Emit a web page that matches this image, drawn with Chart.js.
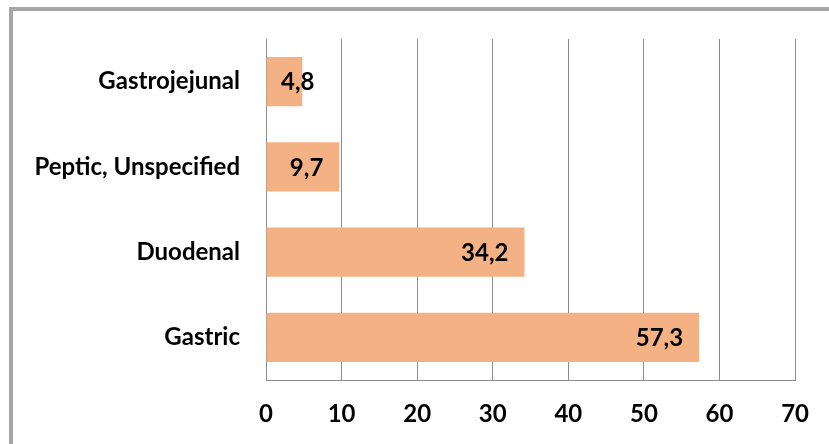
<!DOCTYPE html>
<html>
<head>
<meta charset="utf-8">
<script src="https://cdn.jsdelivr.net/npm/chart.js@4"></script>
<style>
  body { margin: 0; overflow: hidden; background: #fff; }
  #frame { position: absolute; left: 9px; top: 7px; width: 900px; height: 500px; border: 4px solid #a6a6a6; }
  #wrap { position: absolute; left: 0; top: 0; width: 829px; height: 444px; }
</style>
</head>
<body>
<div id="frame"></div>
<div id="wrap"><canvas id="myBarChart" width="829" height="444"></canvas></div>
<script>
var categories = ["Gastrojejunal", "Peptic, Unspecified", "Duodenal", "Gastric"];
var values = [4.8, 9.7, 34.2, 57.3];
var xTicks = [0, 10, 20, 30, 40, 50, 60, 70];

var fontFamily = "Lato, 'Open Sans', sans-serif";

// labels at the inside end of each bar, like the spreadsheet did it
var barLabels = {
    id: 'barLabels',
    afterDatasetsDraw: function(chart) {
        var ctx = chart.ctx;
        var meta = chart.getDatasetMeta(0);
        var left = chart.scales.x.getPixelForValue(0);
        ctx.save();
        ctx.font = "bold 24px " + fontFamily;
        ctx.fillStyle = "#000";
        ctx.textBaseline = "middle";
        ctx.textAlign = "right";
        meta.data.forEach(function(bar, i) {
            var text = values[i].toFixed(1).replace('.', ',');
            var w = ctx.measureText(text).width;
            var right = Math.max(bar.x - 16, left + 15 + w);
            ctx.fillText(text, right, bar.y + 1);
        });
        ctx.restore();
    }
};

var ctx = document.getElementById('myBarChart').getContext('2d');
var chart = new Chart(ctx, {
    type: 'bar',
    data: {
        labels: categories,
        datasets: [{
            data: values,
            backgroundColor: "#f4b183",
            borderWidth: 0,
            barPercentage: 0.58,
            categoryPercentage: 1
        }]
    },
    options: {
        indexAxis: 'y',
        responsive: false,
        animation: false,
        layout: { padding: { left: 0, right: 29, top: 39, bottom: 0 } },
        plugins: { legend: { display: false }, tooltip: { enabled: false } },
        scales: {
            x: {
                min: 0,
                max: 70,
                afterBuildTicks: function(scale) {
                    scale.ticks = xTicks.map(function(v) { return { value: v }; });
                },
                grid: { color: "#8c8c8c", drawTicks: false },
                border: { color: "#8c8c8c" },
                ticks: { color: "#000", padding: 20, font: { family: fontFamily, size: 24, weight: "bold" } },
                afterFit: function(scale) { scale.height = 64; }
            },
            y: {
                grid: { display: false },
                border: { display: true, color: "#8c8c8c" },
                ticks: { color: "#000", padding: 18, font: { family: fontFamily, size: 24, weight: "bold" } },
                afterFit: function(scale) { scale.width = 266; }
            }
        }
    },
    plugins: [barLabels]
});
</script>
</body>
</html>
